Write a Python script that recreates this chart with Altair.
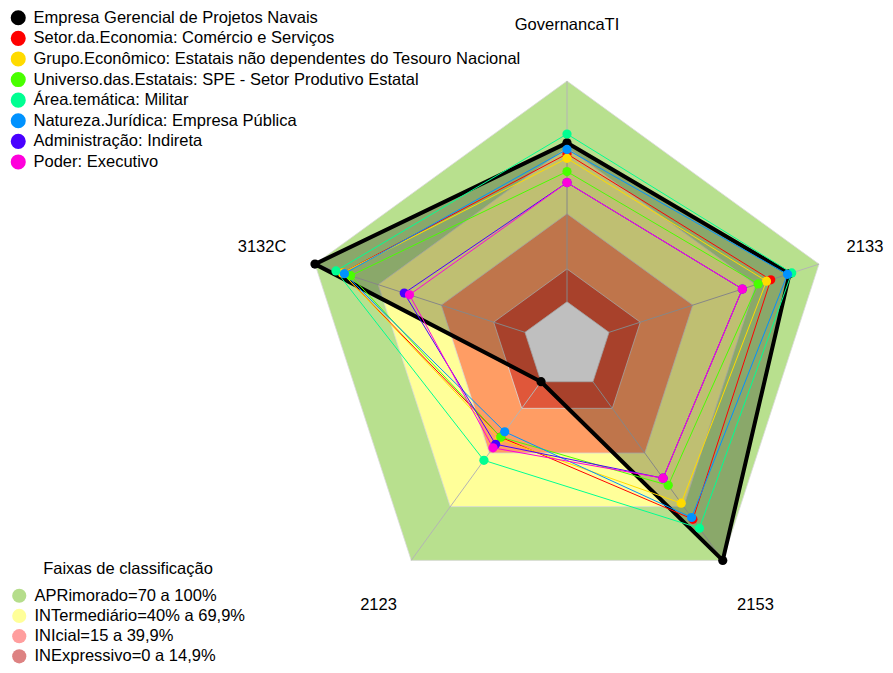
import altair as alt
import numpy as np
import pandas as pd

# ---------------- data ----------------
axis_labels = ["GovernancaTI", "2133", "2153", "2123", "3132C"]

series_names = [
    "Empresa Gerencial de Projetos Navais",
    "Setor.da.Economia: Comércio e Serviços",
    "Grupo.Econômico: Estatais não dependentes do Tesouro Nacional",
    "Universo.das.Estatais: SPE - Setor Produtivo Estatal",
    "Área.temática: Militar",
    "Natureza.Jurídica: Empresa Pública",
    "Administração: Indireta",
    "Poder: Executivo",
]
series_colors = ["#000000", "#FF0000", "#FFDB00", "#49FF00",
                 "#00FF92", "#0092FF", "#4900FF", "#FF00DB"]

# values per axis (GovernancaTI, 2133, 2153, 2123, 3132C), 0..1
v_empresa = [0.72, 0.86, 1.00, 0.00, 1.00]
v_setor = [0.67, 0.77, 0.77, 0.31, 0.87]
v_grupo = [0.65, 0.75, 0.68, 0.32, 0.87]
v_universo = [0.59, 0.71, 0.58, 0.31, 0.83]
v_area = [0.76, 0.87, 0.82, 0.44, 0.90]
v_natureza = [0.69, 0.85, 0.76, 0.28, 0.86]
v_admin = [0.54, 0.635, 0.54, 0.35, 0.575]
v_poder = [0.54, 0.635, 0.54, 0.37, 0.55]
series_values = [v_empresa, v_setor, v_grupo, v_universo,
                 v_area, v_natureza, v_admin, v_poder]

band_names = ["APRimorado=70 a 100%", "INTermediário=40% a 69,9%",
              "INIcial=15 a 39,9%", "INExpressivo=0 a 14,9%"]
band_upper = [1.0, 0.699, 0.399, 0.149]
band_chart_colors = ["#B8E08E", "#FFFF99", "#FF9D64", "#E0573A"]
band_legend_colors = ["#B5DD8B", "#FFFF99", "#FF9E9E", "#DD8282"]

legend_title_bands = "Faixas de classificação"

# ---------------- geometry ----------------
W, H = 877, 657
CX, CY, R = 559.0, 338.0, 265.0
x_dom = [-CX / R, (W - CX) / R]
y_dom = [-(H - CY) / R, CY / R]
n = len(axis_labels)
ang = np.deg2rad(90 - 72 * np.arange(n))


def rad(v):
    return 1.0 / 6.0 + np.asarray(v, dtype=float) * 5.0 / 6.0


def poly_df(values, name):
    r = rad(values)
    idx = list(range(n)) + [0]
    return pd.DataFrame({
        "x": [r[i] * np.cos(ang[i]) for i in idx],
        "y": [r[i] * np.sin(ang[i]) for i in idx],
        "o": list(range(n + 1)),
        "s": name,
    })


X = alt.X("x:Q", scale=alt.Scale(domain=x_dom, nice=False, zero=False), axis=None)
Y = alt.Y("y:Q", scale=alt.Scale(domain=y_dom, nice=False, zero=False), axis=None)

FONT = "Liberation Sans"
FS = 16.5

layers = []

# classification bands (nested polygons) + white centre
for up, col in zip(band_upper, band_chart_colors):
    layers.append(
        alt.Chart(poly_df([up] * n, "b")).mark_line(
            fill=col, stroke="#D9D9D9", strokeWidth=0.8, strokeJoin="miter"
        ).encode(x=X, y=Y, order="o:Q")
    )
layers.append(
    alt.Chart(poly_df([0.0] * n, "c")).mark_line(
        fill="#FFFFFF", stroke="#D9D9D9", strokeWidth=0.8, strokeJoin="miter"
    ).encode(x=X, y=Y, order="o:Q")
)

# axis lines
ax_rows = []
for i in range(n):
    for k, rr in enumerate([1.0 / 6.0, 1.0]):
        ax_rows.append({"x": rr * np.cos(ang[i]), "y": rr * np.sin(ang[i]),
                        "o": k, "a": axis_labels[i]})
layers.append(
    alt.Chart(pd.DataFrame(ax_rows)).mark_line(
        color="#B4B4B4", strokeWidth=1
    ).encode(x=X, y=Y, order="o:Q", detail="a:N")
)

# black filled polygon
layers.append(
    alt.Chart(poly_df(series_values[0], series_names[0])).mark_line(
        stroke="#000000", strokeWidth=4, fill="#000000", fillOpacity=0.25,
        strokeJoin="round"
    ).encode(x=X, y=Y, order="o:Q")
)

# other series lines (one layer each, constant colour)
for v, s, c in zip(series_values[1:], series_names[1:], series_colors[1:]):
    layers.append(
        alt.Chart(poly_df(v, s)).mark_line(stroke=c, strokeWidth=1).encode(
            x=X, y=Y, order="o:Q"
        )
    )

color_scale = alt.Scale(domain=series_names, range=series_colors)

# points (carry the series legend)
pts_df = pd.concat([poly_df(v, s).iloc[:n] for v, s in zip(series_values, series_names)])
layers.append(
    alt.Chart(pts_df).mark_circle(size=85, opacity=1).encode(
        x=X, y=Y,
        color=alt.Color(
            "s:N", scale=color_scale, sort=series_names,
            legend=alt.Legend(
                title=None, orient="none", legendX=2, legendY=1.5,
                symbolType="circle", symbolSize=227, symbolStrokeWidth=0,
                symbolOpacity=1,
                labelFontSize=FS, labelFont=FONT, labelColor="#000000",
                labelOffset=7, labelLimit=0, rowPadding=3.6, padding=0,
            ),
        ),
    )
)

# axis labels (the right-hand one nudged in so it stays on the page)
lab_r = 1.21
lab_df = pd.DataFrame({
    "x": lab_r * np.cos(ang),
    "y": lab_r * np.sin(ang),
    "t": axis_labels,
})
lab_main = lab_df[lab_df["t"] != "2133"]
lab_right = lab_df[lab_df["t"] == "2133"]
layers.append(
    alt.Chart(lab_main).mark_text(
        fontSize=FS, font=FONT, color="#000000", align="center", baseline="middle"
    ).encode(x=X, y=Y, text="t:N")
)
layers.append(
    alt.Chart(lab_right).mark_text(
        fontSize=FS, font=FONT, color="#000000", align="center", baseline="middle",
        dx=-7
    ).encode(x=X, y=Y, text="t:N")
)

# hidden layer that only carries the band legend
leg_df = pd.DataFrame({"x": [0.0] * 4, "y": [0.0] * 4, "b": band_names})
layers.append(
    alt.Chart(leg_df).mark_circle(size=10, opacity=0).encode(
        x=X, y=Y,
        fill=alt.Fill(
            "b:N",
            scale=alt.Scale(domain=band_names, range=band_legend_colors),
            sort=band_names,
            legend=alt.Legend(
                title=legend_title_bands, orient="none", legendX=3, legendY=553,
                titleFontSize=FS, titleFont=FONT, titleFontWeight="normal",
                titleColor="#000000", titleAnchor="middle", titlePadding=10,
                symbolType="circle", symbolSize=201, symbolStrokeWidth=0,
                symbolOpacity=1,
                labelFontSize=FS, labelFont=FONT, labelColor="#000000",
                labelOffset=7, labelLimit=0, rowPadding=3.2, padding=0,
            ),
        ),
    )
)

chart = alt.layer(*layers).properties(
    width=W, height=H, padding=0, background="#FFFFFF",
    autosize=alt.AutoSizeParams(type="none")
).configure_view(strokeWidth=0)

chart.save("out.html", embed_options={"renderer": "svg", "actions": False})
